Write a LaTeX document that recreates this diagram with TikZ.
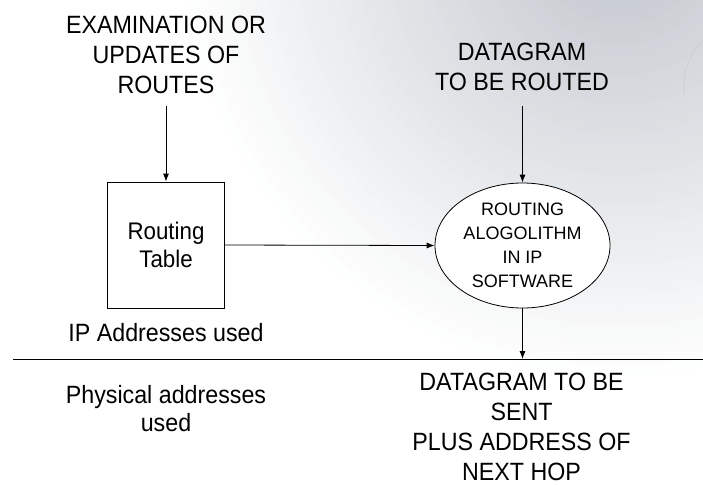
\documentclass[tikz,border=0pt]{standalone}
\usepackage{fontspec}
\setmainfont{Liberation Sans}[FakeStretch=0.93]
\newfontfamily\plainsans{Liberation Sans}
\usetikzlibrary{arrows.meta,shapes.geometric}

\definecolor{bgtint}{RGB}{182,188,196}

\tikzset{
  label/.style={align=center, inner sep=0pt, font=\fontsize{25}{30}\selectfont},
  flow/.style={-{Latex[length=8pt,width=6pt]}, line width=0.8pt},
  tablebox/.style={draw, line width=0.8pt, fill=white, minimum width=117pt, minimum height=126pt,
    align=center, inner sep=0pt, font=\fontsize{24}{28}\selectfont},
  algo/.style={draw, line width=0.8pt, ellipse, fill=white, minimum width=175pt, minimum height=125pt,
    align=center, inner sep=0pt, font=\plainsans\fontsize{18}{24}\selectfont},
}

\begin{document}
\begin{tikzpicture}[x=1pt, y=-1pt]
  % page background
  \useasboundingbox (0,0) rectangle (703,485);
  \fill[white] (0,0) rectangle (703,485);
  \begin{scope}
    \clip (0,0) rectangle (703,485);
    % grey glow along the upper right, built from concentric discs
    \foreach \i in {0,...,44}{
      \pgfmathsetmacro{\rad}{445-10*\i}
      \pgfmathsetmacro{\mix}{85*(1-(440-10*\i)/440)}
      \fill[bgtint!\mix!white] (620,-60) circle (\rad);
    }
    \draw[bgtint!70!black, opacity=0.08, line width=1.2pt] (703,40) .. controls (688,55) and (682,75) .. (684,95);
  \end{scope}

  % sources
  \node[label] (upd) at (166,55) {EXAMINATION OR\\UPDATES OF\\ROUTES};
  \node[label] (dgin) at (522,67) {DATAGRAM\\TO BE ROUTED};

  % processing elements
  \node[tablebox] (tab) at (166,245) {Routing\\Table};
  \node[algo] (alg) at (522.5,245.5) {ROUTING\\ALOGOLITHM\\IN IP\\SOFTWARE};

  % layer boundary
  \coordinate (lineL) at (13,359);
  \coordinate (lineR) at (703,359);
  \draw[line width=0.8pt] (lineL) -- (lineR);
  \coordinate (hit) at (522.5,359);

  % region labels
  \node[label] (ipused) at (166,333) {IP Addresses used};
  \node[label, font=\fontsize{25}{28}\selectfont] (phys) at (166,409) {Physical addresses\\used};
  \node[label] (out) at (521.5,427) {DATAGRAM TO BE\\SENT\\PLUS ADDRESS OF\\NEXT HOP};

  % connectors
  \coordinate (updend) at (166,106);
  \coordinate (dgend) at (522.5,106);
  \draw[flow] (updend) -- (tab.north);
  \draw[flow] (dgend) -- (alg.north);
  \draw[flow] (tab.east) -- (alg.west);
  \draw[flow] (alg.south) -- (hit);
\end{tikzpicture}
\end{document}
